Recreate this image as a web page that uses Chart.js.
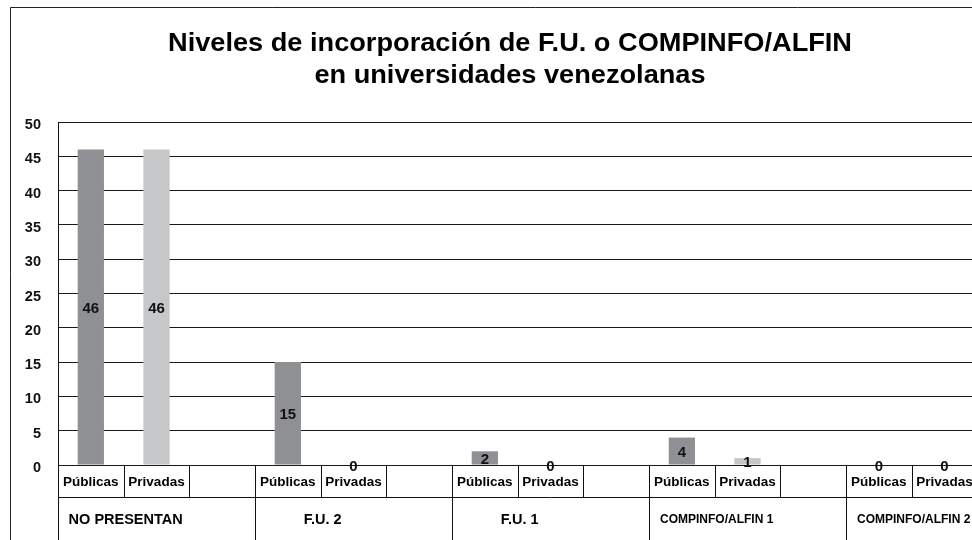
<!DOCTYPE html>
<html lang="es">

<head>
    <meta charset="UTF-8">
    <title>Niveles de incorporación de F.U. o COMPINFO/ALFIN</title>
    <script src="https://cdn.jsdelivr.net/npm/chart.js@4.4.1/dist/chart.umd.min.js"></script>
    <style>
        html, body {
            margin: 0;
            padding: 0;
            background: #fff;
            overflow: hidden;
        }

        .chart-wrap {
            position: absolute;
            left: 0;
            top: 0;
            width: 1060px;
            height: 540px;
        }
    </style>
</head>

<body>
    <div class="chart-wrap">
        <canvas id="chart" width="1060" height="540"></canvas>
    </div>

    <script>
        // data
        const categories = ['NO PRESENTAN', 'F.U. 2', 'F.U. 1', 'COMPINFO/ALFIN 1', 'COMPINFO/ALFIN 2'];
        const seriesNames = ['Públicas', 'Privadas'];
        const publicas = [46, 15, 2, 4, 0];
        const privadas = [46, 0, 0, 1, 0];
        const yTicks = [0, 5, 10, 15, 20, 25, 30, 35, 40, 45, 50];
        const titleLines = ['Niveles de incorporación de F.U. o COMPINFO/ALFIN', 'en universidades venezolanas'];

        const FONT = '"Liberation Sans", Arial, sans-serif';
        const seriesColors = ['#8f9093', '#c6c7c9'];

        // each category gets three slots: Públicas, Privadas, empty
        const slotLabels = [];
        const slotValues = [];
        const slotColors = [];
        categories.forEach((cat, i) => {
            slotLabels.push(seriesNames[0], seriesNames[1], '');
            slotValues.push(publicas[i], privadas[i], null);
            slotColors.push(seriesColors[0], seriesColors[1], 'rgba(0,0,0,0)');
        });

        // the source picture is a bit wider than tall, stretch the title to match
        function stretchedText(ctx, text, cx, y, width) {
            const w = ctx.measureText(text).width;
            ctx.save();
            ctx.translate(cx, y);
            ctx.scale(width / w, 1);
            ctx.fillText(text, 0, 0);
            ctx.restore();
        }

        // title, outer frame and the table under the axis
        const decorPlugin = {
            id: 'decor',
            afterDraw(chart) {
                const ctx = chart.ctx;
                const area = chart.chartArea;
                const x = chart.scales.x;
                const slot = x.getPixelForValue(1) - x.getPixelForValue(0);
                const left = x.getPixelForValue(0) - slot / 2;
                const rowTop = area.bottom;
                const rowMid = rowTop + 32;
                const bottom = chart.height;

                ctx.save();
                // outer frame
                ctx.strokeStyle = '#222';
                ctx.lineWidth = 1;
                ctx.beginPath();
                ctx.moveTo(10.5, bottom);
                ctx.lineTo(10.5, 7.5);
                ctx.lineTo(chart.width, 7.5);
                ctx.stroke();

                // title
                ctx.fillStyle = '#000';
                ctx.textAlign = 'center';
                ctx.textBaseline = 'alphabetic';
                ctx.font = 'bold 25px ' + FONT;
                stretchedText(ctx, titleLines[0], 510, 51, 684);
                const ratio = 684 / ctx.measureText(titleLines[0]).width;
                stretchedText(ctx, titleLines[1], 510, 83, ctx.measureText(titleLines[1]).width * ratio);

                // table lines
                ctx.strokeStyle = '#111';
                ctx.beginPath();
                ctx.moveTo(left, Math.round(rowMid) + 0.5);
                ctx.lineTo(area.right, Math.round(rowMid) + 0.5);
                for (let k = 0; k <= slotLabels.length; k++) {
                    const px = Math.round(left + k * slot) + 0.5;
                    ctx.moveTo(px, rowTop);
                    ctx.lineTo(px, k % 3 === 0 ? bottom : rowMid);
                }
                ctx.stroke();

                // row 1: series names
                ctx.textBaseline = 'middle';
                ctx.font = 'bold 13.5px ' + FONT;
                slotLabels.forEach((lab, k) => {
                    if (lab) ctx.fillText(lab, x.getPixelForValue(k), rowTop + 17);
                });

                // row 2: category names, centred between the two bars
                categories.forEach((cat, i) => {
                    const cx = (x.getPixelForValue(i * 3) + x.getPixelForValue(i * 3 + 1)) / 2 + 2;
                    ctx.font = 'bold ' + (cat.length > 12 ? 12 : 14.5) + 'px ' + FONT;
                    ctx.fillText(cat, cx, rowMid + 23);
                });
                ctx.restore();
            },
            afterDatasetsDraw(chart) {
                const ctx = chart.ctx;
                const meta = chart.getDatasetMeta(0);
                ctx.save();
                ctx.fillStyle = '#111';
                ctx.font = 'bold 15px ' + FONT;
                ctx.textAlign = 'center';
                ctx.textBaseline = 'middle';
                meta.data.forEach((bar, k) => {
                    const v = slotValues[k];
                    if (v === null) return;
                    ctx.fillText(String(v), bar.x, (bar.y + bar.base) / 2 + 2);
                });
                ctx.restore();
            }
        };

        new Chart(document.getElementById('chart'), {
            type: 'bar',
            data: {
                labels: slotLabels,
                datasets: [{
                    data: slotValues,
                    backgroundColor: slotColors,
                    borderWidth: 0,
                    categoryPercentage: 1,
                    barPercentage: 0.4
                }]
            },
            options: {
                responsive: false,
                animation: false,
                layout: {
                    padding: { left: 10, top: 122, right: 17, bottom: 75 }
                },
                plugins: {
                    legend: { display: false },
                    tooltip: { enabled: false }
                },
                scales: {
                    x: {
                        display: false
                    },
                    y: {
                        min: 0,
                        max: 50,
                        afterFit: s => { s.width = 48; },
                        afterBuildTicks: s => { s.ticks = yTicks.map(v => ({ value: v })); },
                        grid: { color: '#1a1a1a', lineWidth: 1, drawTicks: false },
                        border: { display: true, color: '#111', width: 1 },
                        ticks: {
                            padding: 17,
                            labelOffset: 3,
                            color: '#111',
                            font: { family: FONT, size: 14.5, weight: 'bold' }
                        }
                    }
                }
            },
            plugins: [decorPlugin]
        });
    </script>
</body>

</html>
